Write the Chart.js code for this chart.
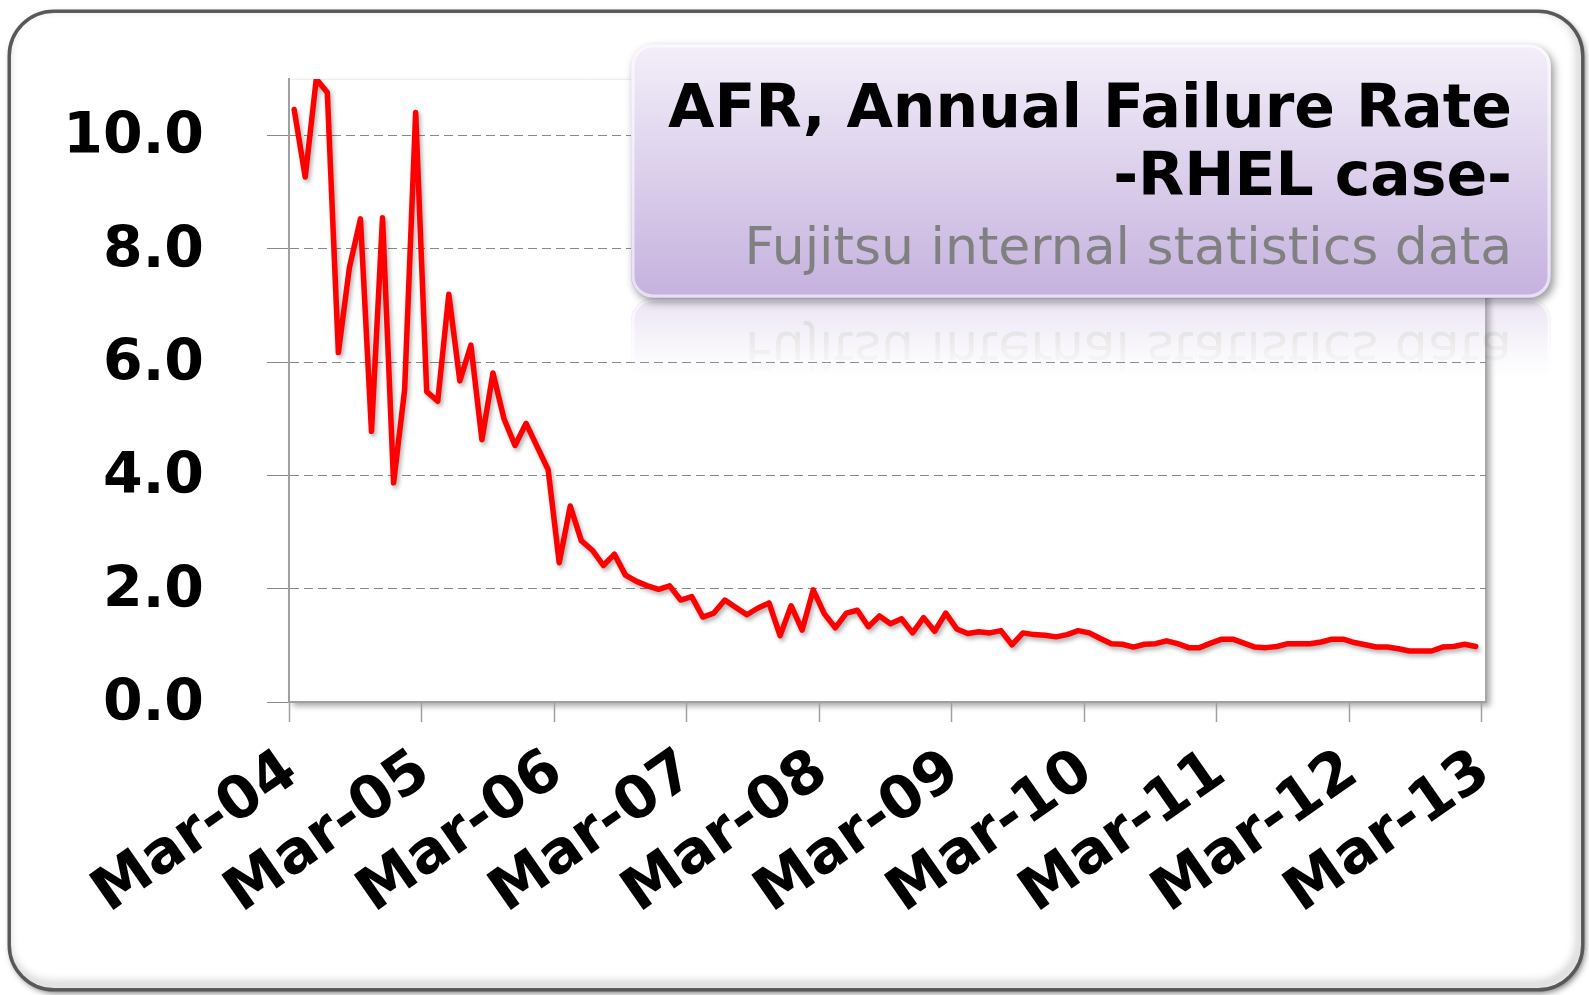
<!DOCTYPE html>
<html>
<head>
<meta charset="utf-8">
<script src="https://cdn.jsdelivr.net/npm/chart.js@4.4.1/dist/chart.umd.min.js"></script>
<style>
    html, body { margin: 0; padding: 0; background: #fff; }
    canvas { display: block; }
</style>
</head>
<body>
<canvas id="afrChart" width="1589" height="995"></canvas>
<script>
// monthly AFR (%), first point Mar-04, last point Feb-13
const afrValues = [
    10.46, 9.27, 11.0, 10.76, 6.17, 7.67, 8.53, 4.78, 8.55, 3.87, 5.51, 10.41,
    5.48, 5.31, 7.20, 5.67, 6.30, 4.63, 5.81, 5.00, 4.53, 4.92, 4.51, 4.10,
    2.46, 3.46, 2.85, 2.68, 2.41, 2.61, 2.24, 2.13, 2.05, 1.99, 2.05, 1.80,
    1.86, 1.50, 1.57, 1.80, 1.67, 1.54, 1.66, 1.75, 1.17, 1.70, 1.27, 1.98,
    1.56, 1.31, 1.57, 1.62, 1.33, 1.52, 1.38, 1.47, 1.22, 1.49, 1.25, 1.57,
    1.29, 1.21, 1.24, 1.22, 1.26, 1.01, 1.22, 1.19, 1.18, 1.15, 1.19, 1.26,
    1.22, 1.12, 1.03, 1.02, 0.97, 1.02, 1.03, 1.08, 1.03, 0.96, 0.96, 1.04,
    1.11, 1.11, 1.04, 0.97, 0.96, 0.98, 1.03, 1.03, 1.03, 1.06, 1.11, 1.11,
    1.05, 1.01, 0.97, 0.97, 0.94, 0.90, 0.90, 0.90, 0.97, 0.98, 1.02, 0.98
];
const tickLabels = ['Mar-04', 'Mar-05', 'Mar-06', 'Mar-07', 'Mar-08', 'Mar-09', 'Mar-10', 'Mar-11', 'Mar-12', 'Mar-13'];
const yTicks = [0, 2, 4, 6, 8, 10];
const titleLines = ['AFR, Annual Failure Rate', '-RHEL case-'];
const subtitle = 'Fujitsu internal statistics data';

// values are mid-month samples, x is months since Mar-04
const points = afrValues.map((v, i) => ({ x: i + 0.47, y: v }));

const BOX = { x: 631, y: 44, w: 920, h: 254, r: 22 };

function boxPath(ctx) {
    ctx.beginPath();
    ctx.roundRect(BOX.x, BOX.y, BOX.w, BOX.h, BOX.r);
}

function drawBox(ctx, withShadow) {
    ctx.save();
    if (withShadow) {
        ctx.shadowColor = 'rgba(0,0,0,0.4)';
        ctx.shadowBlur = 8;
        ctx.shadowOffsetX = 3;
        ctx.shadowOffsetY = 4;
    }
    const g = ctx.createLinearGradient(0, BOX.y, 0, BOX.y + BOX.h);
    g.addColorStop(0, '#f3eff9');
    g.addColorStop(1, '#c5b1de');
    boxPath(ctx);
    ctx.fillStyle = g;
    ctx.fill();
    ctx.restore();

    ctx.save();
    ctx.beginPath();
    ctx.roundRect(BOX.x + 2, BOX.y + 2, BOX.w - 4, BOX.h - 4, BOX.r - 2);
    ctx.strokeStyle = 'rgba(255,255,255,0.6)';
    ctx.lineWidth = 3;
    ctx.stroke();

    ctx.textAlign = 'right';
    ctx.textBaseline = 'alphabetic';
    ctx.fillStyle = '#000';
    ctx.font = "bold 60px 'DejaVu Sans'";
    ctx.fillText(titleLines[0], 1512, 127);
    ctx.fillText(titleLines[1], 1512, 195);
    ctx.fillStyle = '#808080';
    ctx.font = "52px 'DejaVu Sans'";
    ctx.fillText(subtitle, 1512, 264);
    ctx.restore();
}

const decorations = {
    id: 'decorations',
    beforeDraw(chart) {
        const ctx = chart.ctx;
        const a = chart.chartArea;

        // outer rounded frame
        ctx.save();
        ctx.beginPath();
        ctx.roundRect(9, 11, 1574, 979, 45);
        ctx.shadowColor = 'rgba(0,0,0,0.55)';
        ctx.shadowBlur = 6;
        ctx.shadowOffsetX = 2;
        ctx.shadowOffsetY = 3;
        ctx.fillStyle = '#fff';
        ctx.fill();
        ctx.restore();

        ctx.save();
        ctx.beginPath();
        ctx.roundRect(9, 11, 1574, 979, 45);
        ctx.clip();
        ctx.shadowColor = 'rgba(0,0,0,0.35)';
        ctx.shadowBlur = 10;
        ctx.shadowOffsetX = -3;
        ctx.shadowOffsetY = -5;
        ctx.lineWidth = 4;
        ctx.strokeStyle = '#666';
        ctx.stroke();
        ctx.restore();

        ctx.save();
        ctx.beginPath();
        ctx.roundRect(9, 11, 1574, 979, 45);
        ctx.lineWidth = 3;
        ctx.strokeStyle = '#585858';
        ctx.stroke();
        ctx.restore();

        // plot area with drop shadow
        ctx.save();
        ctx.shadowColor = 'rgba(0,0,0,0.35)';
        ctx.shadowBlur = 6;
        ctx.shadowOffsetX = 4;
        ctx.shadowOffsetY = 4;
        ctx.fillStyle = '#fff';
        ctx.fillRect(a.left, a.top, a.right - a.left, a.bottom - a.top);
        ctx.restore();

        ctx.save();
        ctx.strokeStyle = '#eeeeee';
        ctx.lineWidth = 1;
        ctx.beginPath();
        ctx.moveTo(a.left, a.top + 0.5);
        ctx.lineTo(a.right, a.top + 0.5);
        ctx.stroke();
        ctx.strokeStyle = '#a8a8a8';
        ctx.lineWidth = 2;
        ctx.beginPath();
        ctx.moveTo(a.right, a.top);
        ctx.lineTo(a.right, a.bottom);
        ctx.stroke();
        ctx.restore();
    },
    beforeDatasetsDraw(chart) {
        const ctx = chart.ctx;
        ctx.save();
        ctx.shadowColor = 'rgba(0,0,0,0.3)';
        ctx.shadowBlur = 4;
        ctx.shadowOffsetX = 2;
        ctx.shadowOffsetY = 3;
    },
    afterDatasetsDraw(chart) {
        chart.ctx.restore();
    },
    afterDraw(chart) {
        const ctx = chart.ctx;
        const W = chart.width, H = chart.height;
        const mirrorY = BOX.y + BOX.h;

        // reflection of the title box
        const off = document.createElement('canvas');
        off.width = W;
        off.height = H;
        const octx = off.getContext('2d');
        octx.save();
        octx.translate(0, 2 * mirrorY);
        octx.scale(1, -1);
        drawBox(octx, false);
        octx.restore();
        octx.globalCompositeOperation = 'destination-in';
        const fade = octx.createLinearGradient(0, mirrorY, 0, mirrorY + 80);
        fade.addColorStop(0, 'rgba(0,0,0,0.36)');
        fade.addColorStop(1, 'rgba(0,0,0,0)');
        octx.fillStyle = fade;
        octx.fillRect(0, 0, W, H);
        ctx.drawImage(off, 0, 0);

        drawBox(ctx, true);
    }
};

new Chart(document.getElementById('afrChart'), {
    type: 'line',
    data: {
        datasets: [{
            label: 'AFR',
            data: points,
            borderColor: '#ff0000',
            borderWidth: 5.5,
            pointRadius: 0,
            tension: 0,
            borderJoinStyle: 'round',
            borderCapStyle: 'round'
        }]
    },
    options: {
        responsive: false,
        animation: false,
        layout: { padding: { top: 79, right: 103, left: 0, bottom: 0 } },
        plugins: {
            legend: { display: false },
            tooltip: { enabled: false }
        },
        scales: {
            x: {
                type: 'linear',
                min: 0,
                max: 108.4,
                afterBuildTicks: scale => {
                    scale.ticks = tickLabels.map((_, k) => ({ value: k * 12 }));
                },
                afterFit: scale => { scale.height = 293; },
                grid: {
                    drawOnChartArea: false,
                    drawTicks: true,
                    tickLength: 20,
                    tickColor: '#a0a0a0',
                    tickWidth: 1.5
                },
                border: { color: '#a0a0a0', width: 2 },
                ticks: {
                    autoSkip: false,
                    minRotation: 35,
                    maxRotation: 35,
                    padding: 15,
                    labelOffset: 3,
                    color: '#000',
                    font: { family: 'DejaVu Sans', weight: 'bold', size: 59 },
                    callback: v => tickLabels[Math.round(v / 12)]
                }
            },
            y: {
                min: 0,
                max: 11,
                afterBuildTicks: scale => {
                    scale.ticks = yTicks.map(v => ({ value: v }));
                },
                afterFit: scale => {
                    scale.width = 289;
                    scale.paddingTop = 0;
                    scale.paddingBottom = 0;
                },
                grid: {
                    color: '#888888',
                    lineWidth: 1,
                    tickLength: 22,
                    tickColor: '#888888',
                    tickBorderDash: []
                },
                border: { color: '#a0a0a0', width: 2, dash: [9, 5] },
                ticks: {
                    padding: 63,
                    labelOffset: 3,
                    color: '#000',
                    font: { family: 'DejaVu Sans', weight: 'bold', size: 57 },
                    callback: v => v.toFixed(1)
                }
            }
        }
    },
    plugins: [decorations]
});
</script>
</body>
</html>
